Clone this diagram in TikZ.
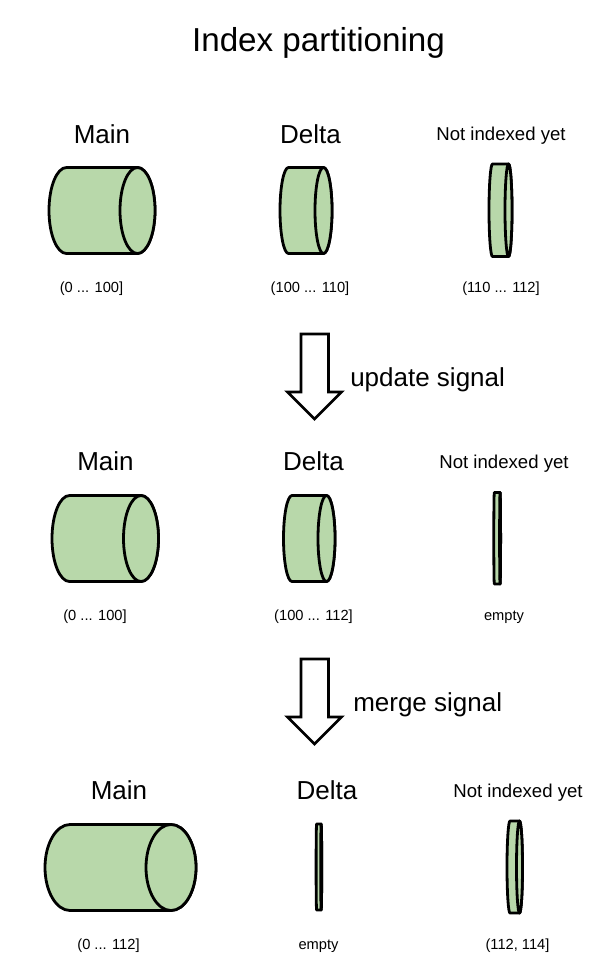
\documentclass[tikz,border=0pt]{standalone}
\usepackage{fontspec}
\setmainfont{Liberation Sans}
\newcommand{\cyl}[5]{% left cx, right cx, top, bottom, rx
  \pgfmathsetmacro{\ry}{(#4-#3)/2}
  \draw[cylstyle] (#1,#3) -- (#2,#3) arc[start angle=-90,end angle=90,x radius=#5,y radius=\ry] -- (#1,#4) arc[start angle=90,end angle=270,x radius=#5,y radius=\ry] -- cycle;
  \draw[cylstyle] (#2,#3) arc[start angle=-90,end angle=270,x radius=#5,y radius=\ry] -- cycle;
}
\newcommand{\downarrowshape}[2]{% left x of shaft, top y
  \draw[arrowstyle] (#1,#2) -- ++(27.5,0) -- ++(0,58) -- ++(13,0) -- ++(-27,27) -- ++(-27,-27) -- ++(13.5,0) -- cycle;
}
\tikzset{
  cylstyle/.style={fill=cylgreen,draw=black,line width=2.1pt,line join=round},
  arrowstyle/.style={fill=white,draw=black,line width=2.1pt,line join=miter},
  titletext/.style={font=\fontsize{24.9pt}{28pt}\selectfont,inner sep=0pt},
  headtext/.style={font=\fontsize{19.5pt}{22pt}\selectfont,inner sep=0pt},
  midtext/.style={font=\fontsize{13.95pt}{16pt}\selectfont,inner sep=0pt},
  smalltext/.style={font=\fontsize{11pt}{12pt}\selectfont,inner sep=0pt},
}
\definecolor{cylgreen}{RGB}{184,216,170}
\begin{document}
\begin{tikzpicture}[x=0.75pt,y=-0.75pt]
\useasboundingbox (0,0) rectangle (601,965);
\node[titletext] (title) at (318.5,43) {Index partitioning};
% row 1
\node[headtext] (m1) at (102,134) {Main};
\node[headtext] (d1) at (310.5,134) {Delta};
\node[midtext] (n1) at (501,136) {Not indexed yet};
\cyl{66.5}{137.5}{167.5}{253.5}{17.5}
\cyl{288.5}{323.5}{167.5}{253.5}{8.5}
\cyl{492.5}{508.5}{164}{256.5}{3.5}
\node[smalltext] (r1a) at (91.5,289) {(0 ... 100]};
\node[smalltext] (r1b) at (310,289) {(100 ... 110]};
\node[smalltext] (r1c) at (501,289) {(110 ... 112]};
% arrow
\downarrowshape{301}{334}
\node[headtext,anchor=west] (u) at (350,380) {update signal};
% row 2
\node[headtext] (m2) at (105.5,461) {Main};
\node[headtext] (d2) at (313.5,461) {Delta};
\node[midtext] (n2) at (504,464) {Not indexed yet};
\cyl{69.5}{141}{495.5}{581.5}{17.5}
\cyl{292}{326.5}{495.5}{581.5}{8.5}
\cyl{494.3}{500.1}{492.5}{584}{0.5}
\node[smalltext] (r2a) at (95,617) {(0 ... 100]};
\node[smalltext] (r2b) at (313.5,617) {(100 ... 112]};
\node[smalltext] (r2c) at (504,617) {empty};
% arrow
\downarrowshape{301}{659}
\node[headtext,anchor=west] (v) at (353,705) {merge signal};
% row 3
\node[headtext] (m3) at (119,790) {Main};
\node[headtext] (d3) at (327,790) {Delta};
\node[midtext] (n3) at (518,793) {Not indexed yet};
\cyl{70}{171}{824.5}{910.5}{25}
\cyl{316.6}{321.2}{824}{910}{0.5}
\cyl{510}{519.5}{821}{913}{3}
\node[smalltext] (r3a) at (108.5,946) {(0 ... 112]};
\node[smalltext] (r3b) at (318.5,946) {empty};
\node[smalltext] (r3c) at (517.5,946) {(112, 114]};
\end{tikzpicture}
\end{document}
